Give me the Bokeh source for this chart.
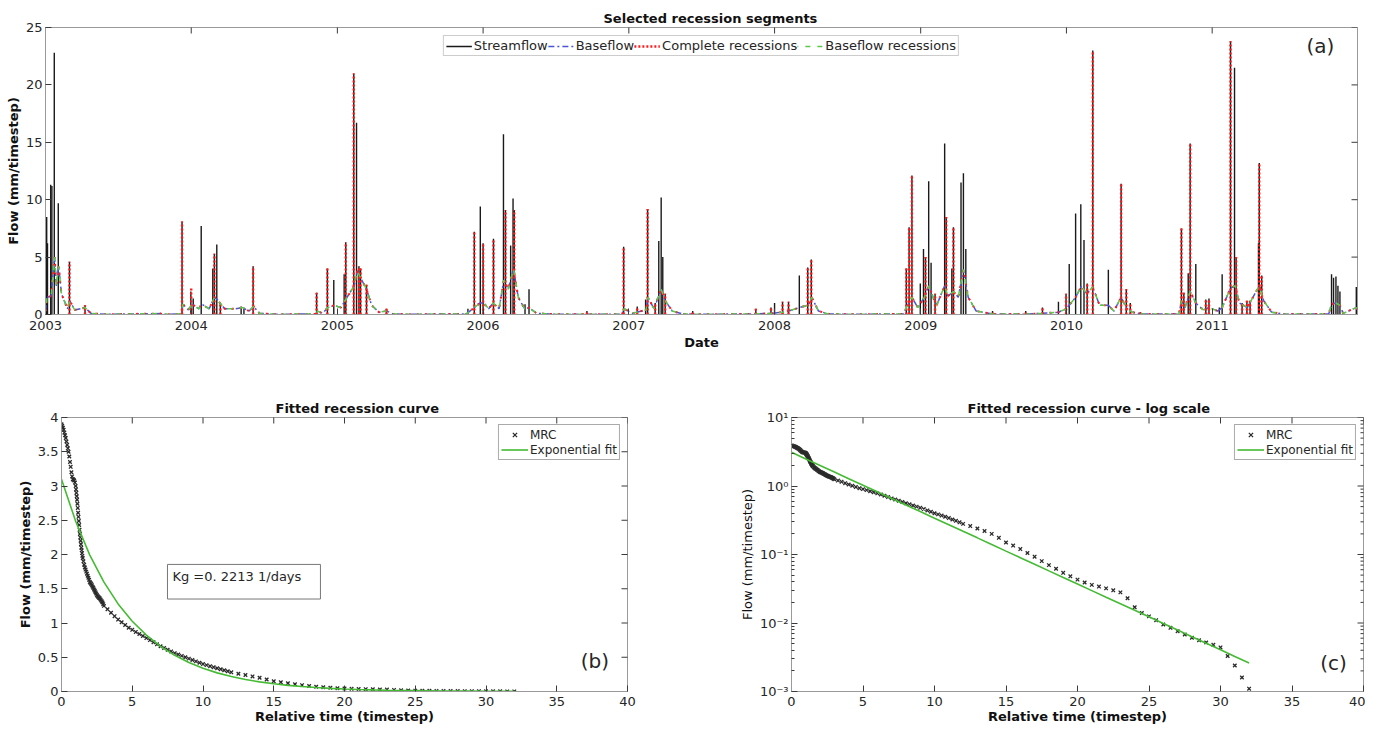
import math
import pandas as pd
from bokeh.plotting import figure
from bokeh.layouts import column, row
from bokeh.models import (Range1d, FixedTicker, DatetimeTickFormatter, Legend, LegendItem, Label,
                          BoxAnnotation, ColumnDataSource, CustomJSTickFormatter)
from bokeh.embed import file_html
from bokeh.resources import INLINE

# ---------------- data: panel (a) ----------------
years = [2003, 2004, 2005, 2006, 2007, 2008, 2009, 2010, 2011]
flow_ticks = [0, 5, 10, 15, 20, 25]

# streamflow peaks (mm/timestep)
sf_dates = ["2003-01-04", "2003-01-06", "2003-01-14", "2003-01-17", "2003-01-23", "2003-02-02",
            "2003-03-02", "2003-04-10", "2003-12-09", "2003-12-31", "2004-01-06", "2004-01-26",
            "2004-02-24", "2004-02-28", "2004-03-05", "2004-03-14", "2004-05-05", "2004-05-12",
            "2004-06-04", "2004-11-10", "2004-12-07", "2004-12-23", "2005-01-18", "2005-01-22",
            "2005-02-11", "2005-02-18", "2005-02-24", "2005-02-28", "2005-03-15", "2005-05-04",
            "2005-11-24", "2005-12-10", "2005-12-25", "2006-01-01", "2006-01-27", "2006-02-21",
            "2006-02-26", "2006-03-11", "2006-03-17", "2006-03-20", "2006-04-16", "2006-04-26",
            "2006-09-18", "2006-12-19", "2007-01-22", "2007-02-12", "2007-02-17", "2007-03-08",
            "2007-03-17", "2007-03-23", "2007-03-27", "2007-04-02", "2007-06-10", "2007-11-15",
            "2007-12-23", "2008-01-01", "2008-01-21", "2008-02-05", "2008-03-03", "2008-03-24",
            "2008-04-02", "2008-11-26", "2008-12-03", "2008-12-10", "2008-12-31", "2009-01-08",
            "2009-01-13", "2009-01-21", "2009-01-27", "2009-02-06", "2009-03-02", "2009-03-06",
            "2009-03-20", "2009-03-24", "2009-04-12", "2009-04-18", "2009-04-24", "2009-06-30",
            "2009-09-21", "2009-11-02", "2009-12-12", "2009-12-31", "2010-01-08", "2010-01-24",
            "2010-02-06", "2010-02-14", "2010-02-22", "2010-03-08", "2010-04-16", "2010-05-18",
            "2010-05-31", "2010-06-10", "2010-07-05", "2010-10-16", "2010-10-22", "2010-11-02",
            "2010-11-07", "2010-11-21", "2010-12-16", "2010-12-24", "2011-01-19", "2011-01-26",
            "2011-02-16", "2011-02-26", "2011-03-02", "2011-03-17", "2011-03-29", "2011-04-06",
            "2011-04-27", "2011-04-29", "2011-05-05", "2011-10-27", "2011-11-01", "2011-11-07",
            "2011-11-12", "2011-11-17", "2011-12-28"]
sf_peaks = [8.5, 6.2, 11.3, 11.2, 22.8, 9.7,
            4.6, 0.8, 8.1, 2.0, 1.4, 7.7,
            4.0, 5.3, 6.1, 1.0, 0.7, 0.6,
            4.2, 1.9, 4.0, 3.0, 3.5, 6.3,
            21.0, 16.7, 4.2, 4.0, 2.6, 0.5,
            0.5, 7.2, 9.4, 6.2, 6.6, 15.7,
            9.1, 6.0, 10.1, 9.1, 0.9, 2.2,
            0.3, 5.9, 0.7, 1.3, 9.2, 1.0,
            6.4, 10.2, 5.0, 1.8, 0.3, 0.5,
            0.6, 1.0, 1.1, 1.1, 3.4, 4.1,
            4.8, 4.0, 7.6, 12.1, 2.7, 5.7,
            5.0, 11.6, 4.5, 1.8, 14.9, 8.5,
            4.0, 7.6, 11.5, 12.3, 5.7, 0.3,
            0.3, 0.6, 1.1, 1.8, 4.4, 8.8,
            9.6, 6.5, 2.7, 23.0, 3.9, 11.4,
            2.2, 1.0, 0.2, 7.5, 1.9, 3.6,
            14.9, 4.4, 1.3, 1.4, 0.6, 3.5,
            23.8, 21.5, 5.0, 1.0, 1.2, 1.2,
            6.2, 13.2, 3.4, 3.5, 3.2, 3.3,
            2.5, 2.0, 2.4]

# selected complete recessions (start peaks)
rec_dates = ["2003-03-02", "2003-04-10", "2003-12-09", "2004-01-01", "2004-02-28", "2004-03-14",
             "2004-06-04", "2004-11-10", "2004-12-07", "2005-01-22", "2005-02-11", "2005-02-24",
             "2005-02-28", "2005-03-15", "2005-05-04", "2005-12-10", "2006-01-01", "2006-01-27",
             "2006-02-26", "2006-03-20", "2006-09-18", "2006-12-19", "2007-01-22", "2007-02-17",
             "2007-03-08", "2007-04-02", "2007-06-10", "2007-11-15", "2007-12-23", "2008-01-21",
             "2008-02-05", "2008-03-24", "2008-04-02", "2008-11-26", "2008-12-03", "2008-12-10",
             "2009-01-13", "2009-02-06", "2009-03-06", "2009-03-24", "2009-06-30", "2009-09-21",
             "2009-11-02", "2009-12-31", "2010-02-22", "2010-03-08", "2010-05-18", "2010-05-31",
             "2010-06-10", "2010-07-05", "2010-10-16", "2010-10-22", "2010-11-07", "2010-12-16",
             "2010-12-24", "2011-02-16", "2011-03-02", "2011-03-17", "2011-03-29", "2011-04-06",
             "2011-04-29", "2011-05-05"]
rec_peaks = [4.6, 0.8, 8.1, 2.4, 5.3, 1.0,
             4.2, 1.9, 4.0, 6.3, 21.0, 4.2,
             4.0, 2.6, 0.5, 7.2, 6.2, 6.6,
             9.1, 9.1, 0.3, 5.9, 0.7, 9.2,
             1.0, 1.8, 0.3, 0.5, 0.6, 1.1,
             1.1, 4.1, 4.8, 4.0, 7.6, 12.1,
             5.0, 1.8, 8.5, 7.6, 0.3, 0.3,
             0.6, 1.8, 2.7, 23.0, 11.4, 2.2,
             1.0, 0.2, 7.5, 1.9, 14.9, 1.3,
             1.4, 23.8, 5.0, 1.0, 1.2, 1.2,
             13.2, 3.4]

# baseflow
bf_dates = ["2003-01-01", "2003-01-05", "2003-01-15", "2003-01-24", "2003-01-28", "2003-02-03",
            "2003-02-10", "2003-02-25", "2003-03-03", "2003-03-15", "2003-04-10", "2003-04-25",
            "2003-06-01", "2003-10-15", "2003-10-25", "2003-12-08", "2003-12-11", "2003-12-25",
            "2004-01-03", "2004-01-20", "2004-01-27", "2004-02-15", "2004-02-28", "2004-03-06",
            "2004-03-25", "2004-04-20", "2004-05-08", "2004-05-25", "2004-06-05", "2004-06-20",
            "2004-08-01", "2004-11-10", "2004-11-12", "2004-11-25", "2004-12-08", "2004-12-24",
            "2005-01-10", "2005-01-20", "2005-02-12", "2005-02-20", "2005-02-28", "2005-03-15",
            "2005-03-28", "2005-04-15", "2005-05-05", "2005-05-20", "2005-07-01", "2005-11-20",
            "2005-12-10", "2005-12-24", "2006-01-02", "2006-01-15", "2006-01-26", "2006-02-10",
            "2006-02-22", "2006-03-05", "2006-03-18", "2006-03-30", "2006-04-15", "2006-04-26",
            "2006-05-15", "2006-07-01", "2006-09-18", "2006-12-15", "2006-12-20", "2007-01-10",
            "2007-02-13", "2007-02-18", "2007-03-05", "2007-03-23", "2007-04-02", "2007-04-20",
            "2007-05-15", "2007-07-01", "2007-11-15", "2007-12-23", "2008-01-20", "2008-02-05",
            "2008-03-03", "2008-03-25", "2008-04-03", "2008-04-20", "2008-05-15", "2008-07-01",
            "2008-11-20", "2008-11-26", "2008-12-10", "2008-12-25", "2009-01-10", "2009-01-22",
            "2009-02-01", "2009-02-10", "2009-03-02", "2009-03-10", "2009-03-24", "2009-04-05",
            "2009-04-18", "2009-04-30", "2009-05-20", "2009-06-30", "2009-09-20", "2009-11-01",
            "2009-12-12", "2010-01-01", "2010-01-24", "2010-02-08", "2010-02-20", "2010-03-08",
            "2010-03-25", "2010-04-16", "2010-04-30", "2010-05-18", "2010-06-01", "2010-06-15",
            "2010-07-10", "2010-10-10", "2010-10-16", "2010-10-25", "2010-11-07", "2010-11-21",
            "2010-12-10", "2010-12-24", "2011-01-15", "2011-01-26", "2011-02-16", "2011-02-28",
            "2011-03-10", "2011-03-30", "2011-04-29", "2011-05-10", "2011-05-30", "2011-07-01",
            "2011-10-20", "2011-10-27", "2011-11-07", "2011-11-17", "2011-11-25", "2011-12-28",
            "2011-12-31"]
bf_vals = [0.3, 1.5, 1.6, 5.0, 2.5, 4.2,
           1.8, 0.5, 1.2, 0.4, 0.6, 0.1,
           0.02, 0.08, 0.02, 0.05, 0.9, 0.4,
           0.9, 0.5, 0.9, 0.5, 1.5, 1.3,
           0.5, 0.5, 0.6, 0.3, 0.7, 0.1,
           0.02, 0.05, 0.3, 0.1, 0.6, 0.8,
           0.6, 1.2, 2.5, 3.8, 3.2, 2.2,
           0.8, 0.2, 0.3, 0.05, 0.02, 0.05,
           0.6, 1.0, 1.0, 0.5, 1.0, 0.5,
           3.0, 2.2, 4.0, 1.5, 0.5, 0.6,
           0.1, 0.02, 0.03, 0.02, 0.5, 0.1,
           0.4, 1.5, 0.5, 2.2, 1.2, 0.3,
           0.05, 0.02, 0.05, 0.1, 0.2, 0.3,
           0.6, 0.8, 1.5, 0.3, 0.05, 0.02,
           0.05, 0.6, 1.5, 0.6, 1.5, 2.5,
           1.5, 0.8, 2.5, 1.6, 2.0, 1.5,
           3.9, 1.5, 0.3, 0.05, 0.03, 0.1,
           0.2, 0.5, 1.5, 2.5, 1.8, 2.4,
           0.8, 0.8, 0.3, 1.5, 0.5, 0.2,
           0.05, 0.05, 1.2, 0.6, 2.0, 1.0,
           0.4, 0.6, 0.3, 0.6, 2.3, 2.5,
           1.0, 0.6, 2.5, 1.2, 0.2, 0.03,
           0.05, 0.9, 1.0, 0.8, 0.1, 0.6,
           0.3]

# ---------------- data: panels (b) and (c) ----------------
mrc_t = [0.0, 0.05, 0.1, 0.15, 0.2, 0.25, 0.3, 0.35, 0.4, 0.45, 0.5,
         0.55, 0.6, 0.65, 0.7, 0.75, 0.8, 0.85, 0.9, 0.95, 1.0,
         1.025, 1.05, 1.075, 1.1, 1.125, 1.15, 1.175, 1.2, 1.225, 1.25,
         1.275, 1.3, 1.325, 1.35, 1.375, 1.4, 1.425, 1.45, 1.475, 1.5,
         1.55, 1.6, 1.65, 1.7, 1.75, 1.8, 1.85, 1.9, 1.95, 2.0,
         2.05, 2.1, 2.15, 2.2, 2.25, 2.3, 2.35, 2.4, 2.45, 2.5,
         2.55, 2.6, 2.65, 2.7, 2.75, 2.8, 2.85, 2.9, 2.95, 3.0,
         3.25, 3.5, 3.75, 4.0, 4.25, 4.5, 4.75, 5.0, 5.25, 5.5, 5.75, 6.0,
         6.25, 6.5, 6.75, 7.0, 7.25, 7.5, 7.75, 8.0, 8.25, 8.5, 8.75, 9.0,
         9.25, 9.5, 9.75, 10.0, 10.25, 10.5, 10.75, 11.0, 11.25, 11.5, 11.75, 12.0,
         12.5, 13.0, 13.5, 14.0, 14.5, 15.0, 15.5, 16.0, 16.5, 17.0, 17.5, 18.0,
         18.5, 19.0, 19.5, 20.0, 20.5, 21.0, 21.5, 22.0, 22.5, 23.0, 23.5, 24.0,
         24.5, 25.0, 25.5, 26.0, 26.5, 27.0, 27.5, 28.0, 28.5, 29.0, 29.5, 30.0,
         30.5, 31.0, 31.5, 32.0]
mrc_q = [3.90, 3.88, 3.85, 3.82, 3.78, 3.74, 3.70, 3.65, 3.60, 3.55, 3.50,
         3.43, 3.35, 3.28, 3.20, 3.14, 3.10, 3.09, 3.08, 3.05, 3.00,
         2.95, 2.90, 2.85, 2.80, 2.74, 2.68, 2.61, 2.55, 2.49, 2.43,
         2.36, 2.30, 2.25, 2.20, 2.15, 2.10, 2.06, 2.02, 1.98, 1.95,
         1.90, 1.85, 1.81, 1.78, 1.75, 1.72, 1.69, 1.66, 1.63, 1.60,
         1.585, 1.57, 1.55, 1.53, 1.51, 1.49, 1.47, 1.45, 1.43, 1.41,
         1.395, 1.38, 1.37, 1.36, 1.345, 1.33, 1.315, 1.30, 1.275, 1.25,
         1.2, 1.15, 1.1, 1.05, 1.01, 0.97, 0.93, 0.9, 0.87, 0.84, 0.81, 0.78,
         0.75, 0.72, 0.69, 0.66, 0.635, 0.61, 0.585, 0.56, 0.54, 0.52, 0.50, 0.48,
         0.46, 0.44, 0.42, 0.40, 0.385, 0.37, 0.355, 0.34, 0.325, 0.31, 0.295, 0.28,
         0.26, 0.24, 0.22, 0.20, 0.175, 0.15, 0.135, 0.12, 0.105, 0.093, 0.08, 0.07,
         0.062, 0.054, 0.048, 0.043, 0.039, 0.036, 0.034, 0.032, 0.030, 0.028, 0.023, 0.017,
         0.014, 0.0125, 0.011, 0.0095, 0.0085, 0.0076, 0.0068, 0.0061, 0.0056, 0.0052, 0.0048, 0.0044,
         0.0033, 0.0024, 0.0016, 0.0011]

fit_t = list(range(0, 33))
fit_q = [3.1, 2.485, 1.991, 1.596, 1.279, 1.025, 0.822, 0.659, 0.528, 0.423, 0.339,
         0.272, 0.218, 0.175, 0.140, 0.112, 0.0899, 0.0720, 0.0577, 0.0463, 0.0371,
         0.0297, 0.0238, 0.0191, 0.0153, 0.0123, 0.00983, 0.00788, 0.00632, 0.00506,
         0.00406, 0.00325, 0.00261]

kg_text = "Kg =0. 2213 1/days"
rel_ticks = [0, 5, 10, 15, 20, 25, 30, 35, 40]
lin_ticks = [0, 0.5, 1, 1.5, 2, 2.5, 3, 3.5, 4]
log_ticks = [0.001, 0.01, 0.1, 1, 10]
log_minor = [m * d for d in [0.001, 0.01, 0.1, 1] for m in range(2, 10)]

# ---------------- styling ----------------
AXC = "#3a3a3a"
BOX = "#9a9a9a"
TXT = "#262626"
FONT = "DejaVu Sans"
C_SF = "#1a1a1a"
C_BF = "#4b55d6"
C_RC = "#ff1a1a"
C_BR = "#5cc84a"
C_FIT = "#44bb33"


def style_axis(ax, minor=False, fs="13px"):
    ax.major_tick_in = 6
    ax.major_tick_out = 0
    ax.minor_tick_in = 3 if minor else 0
    ax.minor_tick_out = 0
    ax.axis_line_color = BOX
    ax.major_tick_line_color = AXC
    ax.minor_tick_line_color = AXC if minor else None
    ax.major_label_text_color = TXT
    ax.major_label_text_font = FONT
    ax.major_label_text_font_size = fs
    ax.major_label_standoff = 3
    ax.axis_label_standoff = 2
    ax.axis_label_text_color = "#111111"
    ax.axis_label_text_font = FONT
    ax.axis_label_text_font_size = "13px"
    ax.axis_label_text_font_style = "bold"


def style_title(p, text, offset):
    p.title.text = text
    p.title.align = "left"
    p.title.offset = offset
    p.title.text_font = FONT
    p.title.text_font_size = "13px"
    p.title.text_font_style = "bold"
    p.title.standoff = 3
    p.title.text_color = "#111111"


def base_fig(**kw):
    p = figure(output_backend="svg", toolbar_location=None, **kw)
    p.xgrid.visible = False
    p.ygrid.visible = False
    p.outline_line_color = BOX
    p.outline_line_width = 1
    p.background_fill_color = "white"
    p.border_fill_color = "white"
    return p


def mirror_ticks(p, xt, ytop, yt, xright, size=12):
    # tick marks on the top and right edges of the box (half clipped by the frame)
    p.scatter(xt, [ytop] * len(xt), marker="dash", angle=math.pi / 2, size=size,
              line_color=AXC, line_width=1)
    p.scatter([xright] * len(yt), yt, marker="dash", size=size, line_color=AXC, line_width=1)


def ms(s):
    return pd.Timestamp(s).value / 1e6


# ---------------- panel (a) ----------------
sf = pd.to_datetime(pd.Series(sf_dates))
rc = pd.to_datetime(pd.Series(rec_dates))
bf = pd.to_datetime(pd.Series(bf_dates))
x_end = ms("2011-12-31")

pa = base_fig(width=1365, height=360, x_axis_type="datetime",
              x_range=Range1d(ms("2003-01-01"), x_end), y_range=Range1d(0, 25),
              min_border_left=45, min_border_right=8, min_border_top=27, min_border_bottom=46)
style_title(pa, "Selected recession segments", 558)

year_ms = [ms(f"{y}-01-01") for y in years]
fmt = DatetimeTickFormatter(years="%Y", months="%Y", days="%Y", hours="%Y", minutes="%Y",
                            seconds="%Y", milliseconds="%Y", microseconds="%Y")
pa.xaxis.ticker = FixedTicker(ticks=year_ms)
pa.xaxis.formatter = fmt
pa.yaxis.ticker = FixedTicker(ticks=flow_ticks)
for ax in pa.xaxis + pa.yaxis:
    style_axis(ax)
pa.xaxis.major_label_standoff = 6
pa.xaxis.axis_label = "Date"
pa.yaxis.axis_label = "Flow (mm/timestep)"

src_sf = ColumnDataSource(dict(d=sf, v=sf_peaks, z=[0.0] * len(sf_peaks)))
src_rc = ColumnDataSource(dict(d=rc, v=rec_peaks, z=[0.0] * len(rec_peaks)))
src_bf = ColumnDataSource(dict(d=bf, v=bf_vals))

r_sf = pa.segment(x0="d", y0="z", x1="d", y1="v", source=src_sf, line_color=C_SF, line_width=1.4)
r_bf = pa.line("d", "v", source=src_bf, line_color=C_BF, line_width=1.5, line_dash="6 3 2 3")
r_rc = pa.segment(x0="d", y0="z", x1="d", y1="v", source=src_rc, line_color=C_RC,
                  line_width=2.4, line_dash="2 2")
pa.line("d", "v", source=src_bf, line_color=C_RC, line_width=2.0, line_dash="2 6")
r_br = pa.line("d", "v", source=src_bf, line_color=C_BR, line_width=1.5, line_dash="5 7",
               line_dash_offset=4)
mirror_ticks(pa, year_ms, 25, flow_ticks, x_end)

leg_a = Legend(items=[LegendItem(label="Streamflow", renderers=[r_sf]),
                      LegendItem(label="Baseflow", renderers=[r_bf]),
                      LegendItem(label="Complete recessions", renderers=[r_rc]),
                      LegendItem(label="Baseflow recessions", renderers=[r_br])],
               orientation="horizontal", location="top_center", margin=8, padding=2,
               spacing=0, glyph_width=26, glyph_height=14, label_height=14, label_standoff=2,
               label_text_font=FONT, label_text_font_size="13px", label_text_color=TXT,
               border_line_color=BOX, background_fill_alpha=1.0)
pa.add_layout(leg_a)
pa.add_layout(Label(x=ms("2011-09-29"), y=23.4, text="(a)", text_font=FONT,
                    text_font_size="20px", text_align="center", text_baseline="middle",
                    text_color=TXT))

# ---------------- panel (b) ----------------
pb = base_fig(width=720, height=370, x_range=Range1d(0, 40), y_range=Range1d(0, 4),
              min_border_left=61, min_border_right=93, min_border_top=56, min_border_bottom=39)
style_title(pb, "Fitted recession curve", 214)
pb.xaxis.ticker = FixedTicker(ticks=rel_ticks)
pb.yaxis.ticker = FixedTicker(ticks=lin_ticks)
pb.yaxis.formatter = CustomJSTickFormatter(code="return String(tick);")

# ---------------- panel (c) ----------------
pc = base_fig(width=645, height=370, x_range=Range1d(0, 40), y_range=Range1d(0.001, 10),
              y_axis_type="log",
              min_border_left=71, min_border_right=2, min_border_top=57, min_border_bottom=39)
style_title(pc, "Fitted recession curve - log scale", 176)
pc.xaxis.ticker = FixedTicker(ticks=rel_ticks)
sup_code = """
const e = Math.round(Math.log10(tick));
const s = {"-": "\u207b", "0": "\u2070", "1": "\u00b9", "2": "\u00b2", "3": "\u00b3"};
return "10" + String(e).split("").map(c => s[c]).join("");
"""
pc.yaxis.ticker = FixedTicker(ticks=log_ticks, minor_ticks=log_minor)
pc.yaxis.formatter = CustomJSTickFormatter(code=sup_code)

for p, logy in [(pb, False), (pc, True)]:
    for ax in p.xaxis:
        style_axis(ax, fs="13px")
    for ax in p.yaxis:
        style_axis(ax, minor=logy, fs="13px")
    p.xaxis.major_label_standoff = 5
    p.xaxis.axis_label_standoff = 0
    p.xaxis.axis_label = "Relative time (timestep)"
    p.yaxis.axis_label = "Flow (mm/timestep)"
    p.yaxis.axis_label_text_font_style = "normal" if logy else "bold"

    r_m = p.scatter(mrc_t, mrc_q, marker="x", size=5, line_color="#2a2a2a", line_width=1.3)
    r_f = p.line(fit_t, fit_q, line_color=C_FIT, line_width=1.6)
    if logy:
        mirror_ticks(p, rel_ticks, 10, log_ticks, 40)
        p.scatter([40] * len(log_minor), log_minor, marker="dash", size=6,
                  line_color=AXC, line_width=1)
    else:
        mirror_ticks(p, rel_ticks, 4, lin_ticks, 40)
    leg = Legend(items=[LegendItem(label="MRC", renderers=[r_m]),
                        LegendItem(label="Exponential fit", renderers=[r_f])],
                 location="top_right", margin=7, padding=2, spacing=0, glyph_width=27,
                 glyph_height=15, label_height=15, label_standoff=2,
                 label_text_font=FONT, label_text_font_size="12px",
                 label_text_color=TXT, border_line_color="#555555", background_fill_alpha=1.0)
    p.add_layout(leg)

pb.add_layout(BoxAnnotation(left=7.49, right=18.3, bottom=1.35, top=1.855, fill_alpha=0,
                            line_color="#777777", line_width=1, line_alpha=1))
pb.add_layout(Label(x=7.84, y=1.68, text=kg_text, text_font=FONT, text_font_size="13px",
                    text_baseline="middle", text_color=TXT))
pb.add_layout(Label(x=37.7, y=0.45, text="(b)", text_font=FONT, text_font_size="20px",
                    text_align="center", text_baseline="middle", text_color=TXT))
pc.add_layout(Label(x=37.9, y=0.0026, text="(c)", text_font=FONT, text_font_size="20px",
                    text_align="center", text_baseline="middle", text_color=TXT))

layout = column(pa, row(pb, pc))
open("out.html", "w").write(file_html(layout, INLINE))
